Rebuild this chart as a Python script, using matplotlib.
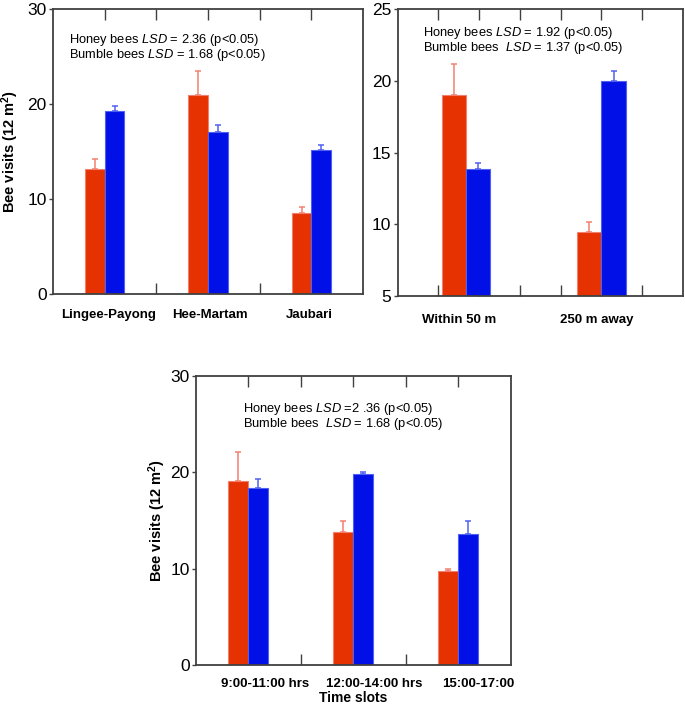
import numpy as np
import matplotlib
matplotlib.use("Agg")
import matplotlib.pyplot as plt
from matplotlib.ticker import FixedLocator

plt.rcParams['font.family'] = ['Liberation Sans', 'DejaVu Sans']
plt.rcParams['mathtext.fontset'] = 'custom'
plt.rcParams['mathtext.rm'] = 'Liberation Sans'
plt.rcParams['mathtext.it'] = 'Liberation Sans:italic'
plt.rcParams['mathtext.bf'] = 'Liberation Sans:bold'

# panel A - sites
sites = ["Lingee-Payong", "Hee-Martam", "Jaubari"]
site_honey = [13.2, 20.9, 8.55]
site_honey_err = [1.0, 2.6, 0.65]
site_bumble = [19.25, 17.05, 15.2]
site_bumble_err = [0.55, 0.7, 0.5]

# panel B - distance
dist = ["Within 50 m", "250 m away"]
dist_honey = [19.0, 9.47]
dist_honey_err = [2.2, 0.65]
dist_bumble = [13.82, 19.98]
dist_bumble_err = [0.46, 0.7]

# panel C - time slots
slots = ["9:00-11:00 hrs", "12:00-14:00 hrs", "15:00-17:00"]
slot_honey = [19.1, 13.83, 9.73]
slot_honey_err = [2.95, 1.1, 0.27]
slot_bumble = [18.4, 19.77, 13.56]
slot_bumble_err = [0.9, 0.27, 1.38]

RED = "#e63200"
BLUE = "#0010e6"
RED_L = "#f28070"
BLUE_L = "#5060f0"
SPINE = "#404040"


def draw(ax, centers, honey, herr, bumble, berr, width, xlim, ylim, yticks,
         minor, label_pos, labels, lines, text_xy, label_pad):
    centers = np.array(centers)
    ax.set_axisbelow(True)
    ax.bar(centers - width / 2, honey, width, color=RED, edgecolor=RED_L, linewidth=0.8, zorder=2)
    ax.bar(centers + width / 2, bumble, width, color=BLUE, edgecolor=BLUE_L, linewidth=0.8, zorder=2)
    ax.errorbar(centers - width / 2, honey, yerr=[np.zeros(len(herr)), herr], fmt='none',
                ecolor=RED_L, elinewidth=1.1, capsize=2.5, capthick=1.1, zorder=1.5)
    ax.errorbar(centers + width / 2, bumble, yerr=[np.zeros(len(berr)), berr], fmt='none',
                ecolor=BLUE_L, elinewidth=1.1, capsize=2.5, capthick=1.1, zorder=1.5)
    ax.set_xlim(*xlim)
    ax.set_ylim(*ylim)
    ax.set_yticks(yticks)
    ax.tick_params(axis='y', which='major', direction='out', length=3, width=1, color=SPINE,
                   labelsize=12.5, pad=1.5, right=False)
    ax.yaxis.set_minor_locator(FixedLocator(yticks[1:-1]))
    ax.tick_params(axis='y', which='minor', direction='in', length=8, width=1, color=SPINE,
                   left=False, right=True)
    ax.set_xticks(label_pos)
    ax.set_xticklabels(labels, fontweight='bold', fontsize=9.5)
    ax.tick_params(axis='x', which='major', length=0, pad=label_pad)
    ax.xaxis.set_minor_locator(FixedLocator(minor))
    ax.tick_params(axis='x', which='minor', direction='in', length=8, width=1, color=SPINE,
                   top=True, bottom=True)
    for s in ax.spines.values():
        s.set_color(SPINE)
        s.set_linewidth(1.3)
    ax.text(text_xy[0], text_xy[1], lines[0], transform=ax.transAxes, fontsize=9.3, va='center')
    ax.text(text_xy[0], text_xy[1] - 0.053, lines[1], transform=ax.transAxes, fontsize=9.3, va='center')


fig = plt.figure(figsize=(6.85, 7.1), dpi=100)

axA = fig.add_axes([0.0774, 0.5859, 0.4526, 0.4014])
draw(axA, [1, 3, 5], site_honey, site_honey_err, site_bumble, site_bumble_err, 0.38,
     (0, 6), (0, 30), [0, 10, 20, 30], [1, 2, 3, 4, 5], [1.08, 3.04, 4.96], sites,
     [r"Honey bees $\mathit{LSD}$ = 2.36 (p<0.05)", r"Bumble bees $\mathit{LSD}$ = 1.68 (p<0.05)"],
     (0.052, 0.892), 11)
axA.set_ylabel(r"Bee visits (12 m$^{\mathbf{2}}$)", fontweight='bold', fontsize=10.5)
axA.yaxis.set_label_coords(-0.104, 0.5)

axB = fig.add_axes([0.5806, 0.5835, 0.4165, 0.4034])
draw(axB, [1.67, 5.0], dist_honey, dist_honey_err, dist_bumble, dist_bumble_err, 0.59,
     (0, 7), (5, 25), [5, 10, 15, 20, 25], [1, 2, 3, 4, 5, 6], [1.5, 4.88], dist,
     [r"Honey bees $\mathit{LSD}$ = 1.92 (p<0.05)", r"Bumble bees  $\mathit{LSD}$ = 1.37 (p<0.05)"],
     (0.09, 0.917), 13)

axC = fig.add_axes([0.2861, 0.0630, 0.4594, 0.4079])
draw(axC, [1, 3, 5], slot_honey, slot_honey_err, slot_bumble, slot_bumble_err, 0.38,
     (0, 6), (0, 30), [0, 10, 20, 30], [1, 2, 3, 4, 5], [1.31, 3.39, 5.38], slots,
     [r"Honey bees $\mathit{LSD}$ =2 .36 (p<0.05)", r"Bumble bees  $\mathit{LSD}$ = 1.68 (p<0.05)"],
     (0.15, 0.886), 9)
axC.set_ylabel(r"Bee visits (12 m$^{\mathbf{2}}$)", fontweight='bold', fontsize=10.5)
axC.yaxis.set_label_coords(-0.089, 0.5)
axC.set_xlabel("Time slots", fontweight='bold', fontsize=10, labelpad=1)

fig.savefig("out.png", dpi=100)
